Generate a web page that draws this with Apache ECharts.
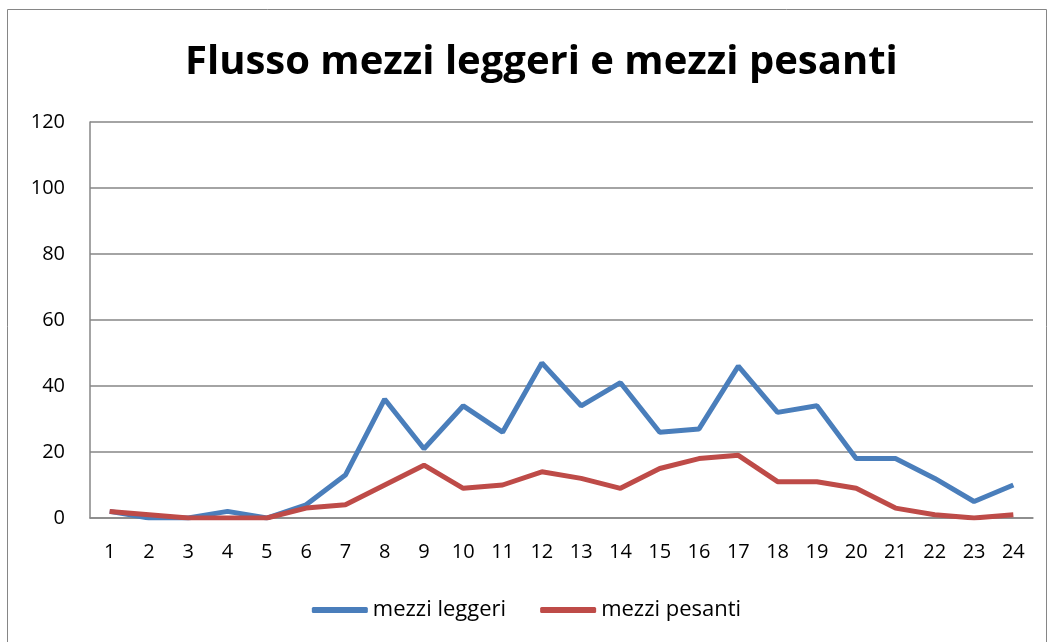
<!DOCTYPE html>
<html><head><meta charset="utf-8">
<script src="https://cdn.jsdelivr.net/npm/echarts@6/dist/echarts.min.js"></script>
<style>html,body{margin:0;padding:0;background:#fff}#c{width:1053px;height:642px}</style>
</head><body><div id="c"></div>
<script>
const categories = ['1','2','3','4','5','6','7','8','9','10','11','12','13','14','15','16','17','18','19','20','21','22','23','24'];
const mezziLeggeri = [2,0,0,2,0,4,13,36,21,34,26,47,34,41,26,27,46,32,34,18,18,12,5,10];
const mezziPesanti = [2,1,0,0,0,3,4,10,16,9,10,14,12,9,15,18,19,11,11,9,3,1,0,1];
const chart = echarts.init(document.getElementById('c'));
const font = '"Open Sans", "Liberation Sans", sans-serif';
chart.setOption({
  animation: false,
  graphic: [{type:'rect', shape:{x:7.5,y:9.5,width:1039,height:640}, style:{fill:'none', stroke:'#868686', lineWidth:1}}],
  title: {text:'Flusso mezzi leggeri e mezzi pesanti', left:180, top:38,
    textStyle:{fontFamily:font, fontWeight:'bold', fontSize:40, color:'#000'}},
  legend: {top:594, left:'center', itemWidth:56, itemHeight:6, itemGap:34, icon:'roundRect',
    textStyle:{fontFamily:font, fontSize:22, color:'#000'},
    data:['mezzi leggeri','mezzi pesanti']},
  grid: {left:90, right:20, top:122, bottom:124},
  xAxis: {type:'category', data:categories, boundaryGap:true,
    axisLine:{lineStyle:{color:'#868686', width:1.5}}, axisTick:{show:false},
    axisLabel:{fontFamily:font, fontSize:20, color:'#000', margin:24}},
  yAxis: {type:'value', min:0, max:120, interval:20,
    axisLine:{show:true, lineStyle:{color:'#868686', width:1.5}},
    splitLine:{lineStyle:{color:'#868686', width:1.5}},
    axisLabel:{fontFamily:font, fontSize:20, color:'#000', margin:25}},
  series: [
    {name:'mezzi leggeri', type:'line', data:mezziLeggeri, symbol:'none', lineStyle:{color:'#4a7ebb', width:5}, itemStyle:{color:'#4a7ebb'}},
    {name:'mezzi pesanti', type:'line', data:mezziPesanti, symbol:'none', lineStyle:{color:'#be4b48', width:5}, itemStyle:{color:'#be4b48'}}
  ]
});
</script></body></html>
